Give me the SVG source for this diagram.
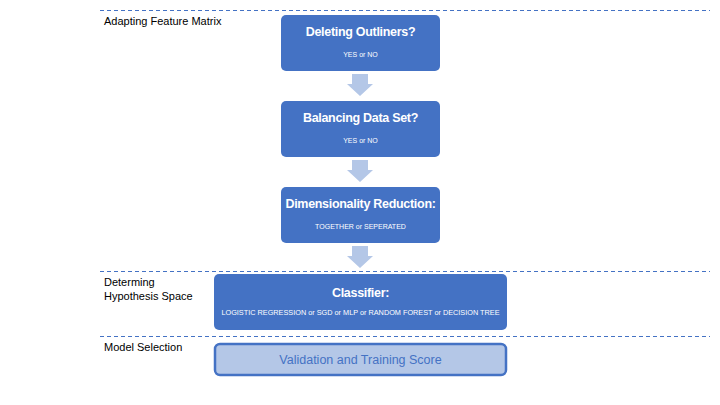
<svg xmlns="http://www.w3.org/2000/svg" width="720" height="405" viewBox="0 0 720 405">
<style>
.sep{stroke:#4472C4;stroke-width:1;stroke-dasharray:4 3;fill:none}
.box{fill:#4472C4;stroke:none}
.t{font-family:"Liberation Sans",Arial,sans-serif;fill:#fff;text-anchor:middle}
.h{font-size:12.5px;font-weight:bold;letter-spacing:-0.3px}
.s{font-size:7px}
.s2{font-size:7.3px}
.lbl{font-family:"Liberation Sans",Arial,sans-serif;font-size:11px;fill:#000}
.arr{fill:#B4C7E7}
</style>
<rect width="720" height="405" fill="#fff"/>
<g id="separators">
<line class="sep" x1="100" y1="10.5" x2="710" y2="10.5"/>
<line class="sep" x1="100" y1="271.5" x2="710" y2="271.5"/>
<line class="sep" x1="100" y1="336.5" x2="710" y2="336.5"/>
</g>
<g id="labels">
<text class="lbl" x="104" y="25">Adapting Feature Matrix</text>
<text class="lbl" x="104" y="286">Determing</text>
<text class="lbl" x="104" y="300">Hypothesis Space</text>
<text class="lbl" x="104" y="351">Model Selection</text>
</g>
<g id="connectors">
<polygon class="arr" points="352,74 368,74 368,84 373,84 360,96 347,84 352,84"/>
<polygon class="arr" points="352,160 368,160 368,170 373,170 360,182 347,170 352,170"/>
<polygon class="arr" points="352,246 368,246 368,256 373,256 360,268 347,256 352,256"/>
</g>
<g id="n1">
<rect class="box" x="281" y="15" width="159" height="56" rx="5"/>
<text class="t h" x="360.5" y="36">Deleting Outliners?</text>
<text class="t s" x="360.5" y="57">YES or NO</text>
</g>
<g id="n2">
<rect class="box" x="281" y="101" width="159" height="56" rx="5"/>
<text class="t h" x="360.5" y="122">Balancing Data Set?</text>
<text class="t s" x="360.5" y="143">YES or NO</text>
</g>
<g id="n3">
<rect class="box" x="281" y="187" width="159" height="56" rx="5"/>
<text class="t h" x="360.5" y="208">Dimensionality Reduction:</text>
<text class="t s" x="360.5" y="229">TOGETHER or SEPERATED</text>
</g>
<g id="n4">
<rect class="box" x="214" y="274" width="293" height="56" rx="5"/>
<text class="t h" x="360.5" y="297">Classifier:</text>
<text class="t s2" x="360.5" y="315">LOGISTIC REGRESSION or SGD or MLP or RANDOM FOREST or DECISION TREE</text>
</g>
<g id="n5">
<rect x="215" y="344" width="291" height="31" rx="5" fill="#B4C7E7" stroke="#4472C4" stroke-width="2.5"/>
<text x="360.5" y="364" font-family="'Liberation Sans',Arial,sans-serif" font-size="12.5" fill="#4472C4" text-anchor="middle">Validation and Training Score</text>
</g>
</svg>
